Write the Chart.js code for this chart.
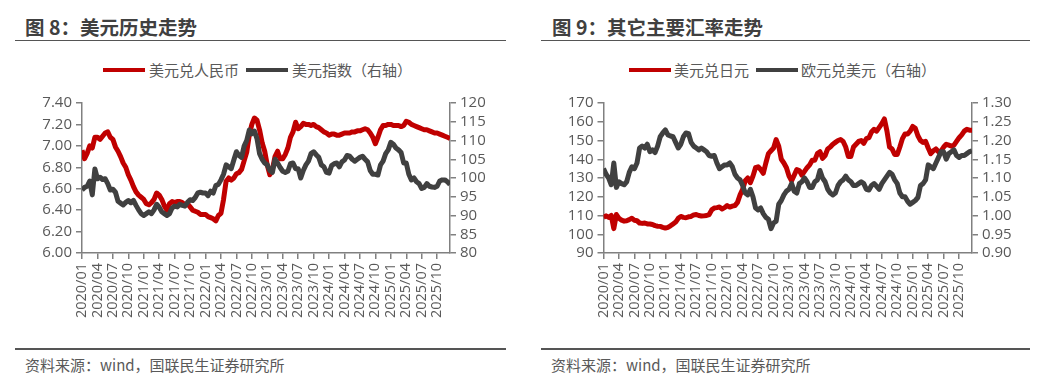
<!DOCTYPE html>
<html><head><meta charset="utf-8">
<script src="https://cdn.jsdelivr.net/npm/chart.js@4/dist/chart.umd.min.js"></script>
<style>
html,body{margin:0;padding:0;background:#fff;}
body{width:1062px;height:380px;position:relative;overflow:hidden;font-family:"Noto Sans CJK SC","Noto Sans",sans-serif;}
.title{position:absolute;top:14px;font-size:19.5px;font-weight:bold;color:#404040;white-space:nowrap;line-height:26px;}
.rule{position:absolute;height:1.5px;background:#555;}
.src{position:absolute;top:354px;font-size:15px;color:#595959;white-space:nowrap;line-height:22px;}
.legend{position:absolute;top:59px;height:22px;font-size:15px;color:#595959;white-space:nowrap;line-height:22px;}
.legend .ln{position:absolute;top:9px;height:4px;width:42px;}
.legend .tx{position:absolute;top:0;}
.box{position:absolute;top:88px;width:520px;height:250px;}
</style></head>
<body>
<div class="title" style="left:25px">图 8：美元历史走势</div>
<div class="title" style="left:552px">图 9：其它主要汇率走势</div>
<div class="rule" style="left:15px;width:491px;top:39.5px"></div>
<div class="rule" style="left:541px;width:489px;top:39.5px"></div>
<div class="rule" style="left:15px;width:491px;top:348px"></div>
<div class="rule" style="left:541px;width:489px;top:348px"></div>
<div class="src" style="left:25px">资料来源：wind，国联民生证券研究所</div>
<div class="src" style="left:551px">资料来源：wind，国联民生证券研究所</div>

<div class="legend" style="left:0;width:520px">
  <span class="ln" style="left:103px;background:#C00000"></span><span class="tx" style="left:149px">美元兑人民币</span>
  <span class="ln" style="left:246px;background:#404040"></span><span class="tx" style="left:292px">美元指数（右轴）</span>
</div>
<div class="legend" style="left:0;width:1062px">
  <span class="ln" style="left:629px;background:#C00000"></span><span class="tx" style="left:674px">美元兑日元</span>
  <span class="ln" style="left:756px;background:#404040"></span><span class="tx" style="left:801px">欧元兑美元（右轴）</span>
</div>

<div class="box" style="left:0"><canvas id="c1" width="520" height="250"></canvas></div>
<div class="box" style="left:530px"><canvas id="c2" width="520" height="250"></canvas></div>

<script>
// Tick labels (every quarter) for both charts
const quarterLabels = ['2020/01','2020/04','2020/07','2020/10','2021/01','2021/04','2021/07','2021/10',
 '2022/01','2022/04','2022/07','2022/10','2023/01','2023/04','2023/07','2023/10',
 '2024/01','2024/04','2024/07','2024/10','2025/01','2025/04','2025/07','2025/10'];
// Series sampled twice a month starting 2020/01 (step = half month)
const stepMonths = 0.5;

const usdCny = [6.96,6.88,6.93,7.00,6.98,7.08,7.08,7.06,7.09,7.12,7.13,7.08,7.06,6.99,6.95,6.90,6.84,6.80,6.73,6.68,
 6.62,6.57,6.54,6.52,6.50,6.46,6.45,6.47,6.50,6.56,6.54,6.50,6.44,6.40,6.46,6.48,6.47,6.48,6.48,6.47,
 6.45,6.46,6.43,6.40,6.39,6.38,6.36,6.36,6.36,6.34,6.33,6.32,6.30,6.35,6.37,6.50,6.67,6.70,6.68,6.70,
 6.74,6.75,6.78,6.86,6.94,7.10,7.20,7.26,7.24,7.15,7.03,6.95,6.82,6.73,6.78,6.90,6.95,6.88,6.88,6.92,
 6.98,7.08,7.13,7.22,7.16,7.18,7.21,7.20,7.20,7.19,7.20,7.18,7.17,7.15,7.13,7.12,7.10,7.11,7.11,7.10,
 7.10,7.11,7.12,7.12,7.12,7.13,7.13,7.14,7.14,7.15,7.16,7.15,7.12,7.08,7.02,7.08,7.15,7.19,7.19,7.20,
 7.20,7.19,7.19,7.19,7.18,7.19,7.23,7.22,7.20,7.19,7.18,7.17,7.16,7.15,7.15,7.14,7.13,7.12,7.12,7.11,
 7.10,7.09,7.08,7.07];
const dollarIndex = [96.8,97.5,97.8,99.2,95.5,102.4,99.8,100.2,99.6,99.8,98.5,96.8,97.0,96.2,93.8,93.3,92.8,93.5,94.0,93.4,
 94.0,92.7,91.5,90.5,90.0,90.5,91.0,90.5,91.5,93.0,92.2,91.0,90.5,90.0,90.5,92.0,92.5,92.3,93.0,92.7,
 92.5,93.5,94.2,94.0,94.8,96.0,96.2,96.0,96.0,95.3,96.5,96.0,98.0,98.3,99.5,101.0,103.5,103.0,102.5,104.8,
 107.0,106.0,105.5,108.5,110.0,112.8,111.8,112.5,110.5,106.5,105.0,104.0,103.5,102.0,101.5,105.0,104.0,102.8,101.8,101.5,
 101.8,103.8,104.0,102.5,102.5,100.0,102.0,103.5,104.5,106.5,107.0,106.2,105.5,103.5,103.0,101.5,101.3,103.3,103.8,104.0,
 103.0,104.3,104.8,106.0,105.8,105.0,104.5,105.0,105.5,105.8,105.0,104.3,102.0,101.0,101.0,100.8,103.5,104.5,106.5,107.5,
 109.5,109.0,108.0,107.5,106.8,104.0,104.0,101.0,99.5,100.0,99.0,98.5,97.2,97.5,98.5,97.8,97.6,97.5,97.8,99.2,
 99.5,99.5,99.0,98.3];
const usdJpy = [109.0,109.8,109.0,110.0,103.0,110.5,108.5,107.5,107.0,107.2,107.8,108.5,107.5,107.2,106.0,105.8,106.0,105.5,105.5,105.2,
 104.6,104.3,104.2,103.7,103.3,103.7,104.5,105.5,106.5,108.5,109.5,109.0,108.8,109.3,109.5,110.3,110.5,110.0,109.7,109.8,
 110.0,110.5,113.0,114.0,114.2,114.5,113.5,114.2,115.3,114.5,115.0,115.3,117.0,121.0,124.0,128.5,130.0,127.5,131.0,135.5,
 136.0,134.5,132.5,138.0,143.0,144.5,146.0,150.5,147.0,140.0,138.0,135.5,131.0,128.5,131.5,134.5,134.0,131.5,133.5,135.5,
 137.0,139.5,139.5,143.0,144.0,140.5,142.0,145.5,146.5,148.0,149.0,150.0,150.5,149.5,146.5,141.5,141.5,146.5,148.0,149.5,
 150.0,148.5,151.0,151.5,154.5,156.0,155.0,157.0,159.0,161.5,155.0,146.5,145.5,142.5,142.5,146.5,151.0,153.5,153.5,155.0,
 157.5,156.5,152.5,150.0,149.0,149.5,146.0,143.0,144.5,145.5,144.0,144.5,146.5,148.0,147.5,147.0,147.5,149.5,151.5,153.0,
 155.0,156.0,155.5,155.5];
const eurUsd = [1.125,1.110,1.100,1.082,1.140,1.075,1.090,1.085,1.082,1.090,1.115,1.130,1.125,1.140,1.180,1.185,1.180,1.190,1.170,1.175,
 1.168,1.185,1.210,1.220,1.228,1.215,1.212,1.210,1.195,1.180,1.190,1.210,1.220,1.218,1.195,1.185,1.180,1.175,1.180,1.175,
 1.170,1.160,1.158,1.160,1.140,1.125,1.130,1.135,1.135,1.140,1.130,1.110,1.100,1.095,1.080,1.060,1.055,1.070,1.050,1.020,
 1.015,1.020,1.005,0.995,0.990,0.965,0.980,0.985,1.030,1.040,1.055,1.065,1.070,1.085,1.065,1.060,1.085,1.090,1.100,1.090,
 1.075,1.075,1.090,1.095,1.120,1.100,1.090,1.070,1.060,1.055,1.060,1.080,1.090,1.095,1.105,1.095,1.090,1.080,1.080,1.085,
 1.090,1.085,1.070,1.068,1.080,1.085,1.078,1.070,1.085,1.095,1.105,1.115,1.110,1.095,1.085,1.060,1.050,1.050,1.038,1.030,
 1.035,1.040,1.048,1.080,1.085,1.095,1.135,1.130,1.125,1.140,1.155,1.170,1.170,1.150,1.165,1.170,1.175,1.160,1.155,1.160,
 1.160,1.165,1.170,1.172];

const RED = '#C00000', GRAY = '#404040', AXIS = '#808080', TXT = '#595959';
const FONT = '"Open Sans","Noto Sans",sans-serif';

function pts(arr){ return arr.map((v,i)=>({x:i*stepMonths, y:v})); }

function yAxis(pos, min, max, step, dec, width){
  return {
    type:'linear', position:pos, min:min, max:max,
    border:{display:true,color:AXIS,width:1.5},
    grid:{display:true,drawOnChartArea:false,drawTicks:true,tickLength:6,color:AXIS,lineWidth:1.5},
    ticks:{stepSize:step,autoSkip:false,color:TXT,font:{family:FONT,size:15},padding:4,
      callback:(v)=>Number(v).toFixed(dec)},
    afterFit:(s)=>{ s.width = width; }
  };
}

function makeChart(id, leftArr, rightArr, yl, yr){
  return new Chart(document.getElementById(id), {
    type:'line',
    data:{datasets:[
      {label:'R', data:pts(rightArr), yAxisID:'y1', borderColor:GRAY, borderWidth:5, pointRadius:0, tension:0, order:0, borderJoinStyle:'round'},
      {label:'L', data:pts(leftArr), yAxisID:'y', borderColor:RED, borderWidth:5, pointRadius:0, tension:0, order:1, borderJoinStyle:'round'}
    ]},
    options:{
      responsive:false, animation:false, devicePixelRatio:1,
      layout:{padding:{top:15,left:0,right:0,bottom:0}},
      plugins:{legend:{display:false},tooltip:{enabled:false}},
      scales:{
        x:{type:'linear', min:0, max:71.5,
          border:{display:true,color:AXIS,width:1.5},
          grid:{display:true,drawOnChartArea:false,drawTicks:true,tickLength:6,color:AXIS,lineWidth:1.5},
          ticks:{autoSkip:false,minRotation:90,maxRotation:90,color:TXT,font:{family:FONT,size:14.5},padding:4,
            callback:(v)=>quarterLabels[Math.round(v/3)] || ''},
          afterBuildTicks:(s)=>{ s.ticks = quarterLabels.map((_,i)=>({value:i*3})); },
          afterFit:(s)=>{ s.height = 85; }
        },
        y: yAxis('left', yl[0], yl[1], yl[2], yl[3], yl[4]),
        y1: yAxis('right', yr[0], yr[1], yr[2], yr[3], yr[4])
      }
    }
  });
}

makeChart('c1', usdCny, dollarIndex, [6.0,7.4,0.2,2,82], [80,120,5,0,70]);
makeChart('c2', usdJpy, eurUsd, [90,170,10,0,73.5], [0.9,1.3,0.05,2,78]);
</script>
</body></html>
